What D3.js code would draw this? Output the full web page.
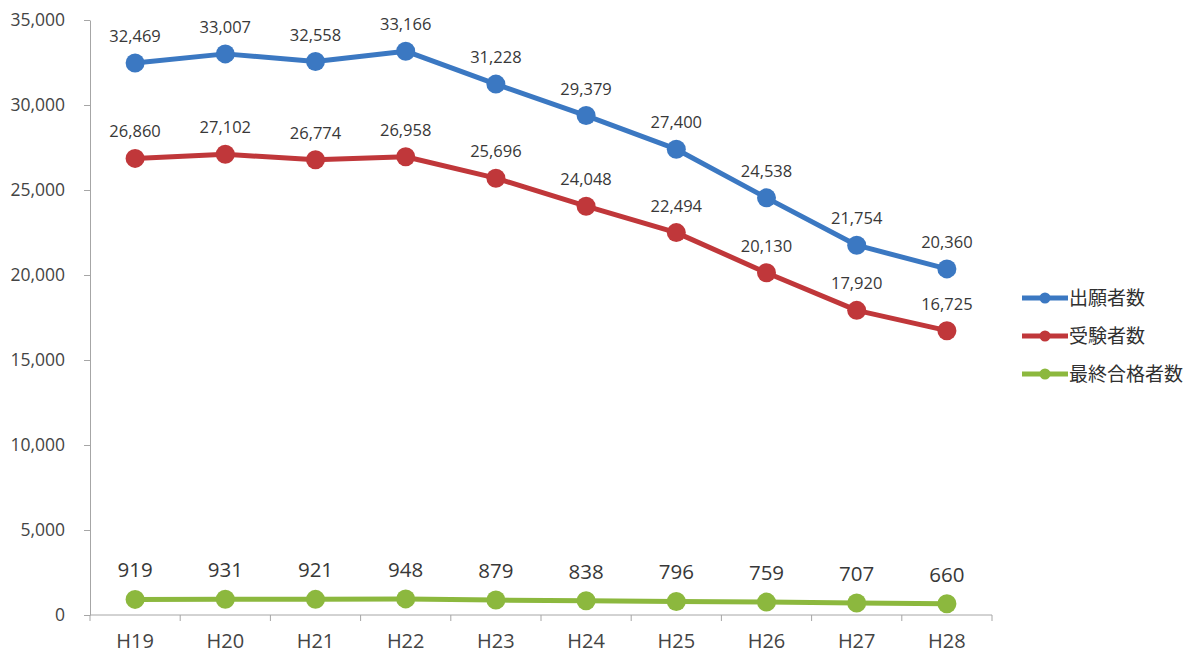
<!DOCTYPE html>
<html>
<head>
<meta charset="utf-8">
<script src="https://cdn.jsdelivr.net/npm/d3@7"></script>
<style>
  body { margin: 0; background: #fff; }
  text { font-family: "Open Sans", "Noto Sans CJK JP", sans-serif; fill: #404040; }
  .axis path, .axis line { stroke: #a6a6a6; }
</style>
</head>
<body>
<div id="chart"></div>
<script>
// years (Heisei)
var years = ["H19", "H20", "H21", "H22", "H23", "H24", "H25", "H26", "H27", "H28"];
var applicants = [32469, 33007, 32558, 33166, 31228, 29379, 27400, 24538, 21754, 20360];
var examinees = [26860, 27102, 26774, 26958, 25696, 24048, 22494, 20130, 17920, 16725];
var passed = [919, 931, 921, 948, 879, 838, 796, 759, 707, 660];
var seriesNames = ["出願者数", "受験者数", "最終合格者数"];
var yTicks = [0, 5000, 10000, 15000, 20000, 25000, 30000, 35000];

var colors = ["#3b78c2", "#c0373a", "#8cb83e"];

var svg = d3.select("#chart").append("svg")
  .attr("width", 1200).attr("height", 672);

var x = d3.scaleBand().domain(years).range([90, 992]);
var y = d3.scaleLinear().domain([0, 35000]).range([615, 20]);

// y axis
var yAxis = svg.append("g").attr("class", "axis")
  .attr("transform", "translate(90,0)")
  .call(d3.axisLeft(y).tickValues(yTicks).tickFormat(d3.format(",")).tickSize(6).tickSizeOuter(0));
yAxis.selectAll("text").attr("x", -25).style("font-size", "17.5px").style("fill", "#444");

// x axis with ticks on category boundaries
var xAxis = svg.append("g").attr("class", "axis")
  .attr("transform", "translate(0,615)");
xAxis.append("line").attr("x1", 90).attr("x2", 992).attr("stroke", "#a6a6a6");
xAxis.selectAll(".tk").data(years.concat(["end"])).enter().append("line")
  .attr("x1", function (d, i) { return 90 + i * x.step(); })
  .attr("x2", function (d, i) { return 90 + i * x.step(); })
  .attr("y1", 0).attr("y2", 6).attr("stroke", "#a6a6a6");
xAxis.selectAll(".lbl").data(years).enter().append("text")
  .attr("x", function (d) { return x(d) + x.bandwidth() / 2; })
  .attr("y", 33)
  .attr("text-anchor", "middle")
  .style("font-size", "20px").style("fill", "#444")
  .text(function (d) { return d; });

var allSeries = [applicants, examinees, passed];
var line = d3.line()
  .x(function (d, i) { return x(years[i]) + x.bandwidth() / 2; })
  .y(function (d) { return y(d); });

allSeries.forEach(function (vals, s) {
  var g = svg.append("g");
  g.append("path").datum(vals)
    .attr("d", line)
    .attr("fill", "none")
    .attr("stroke", colors[s])
    .attr("stroke-width", 5)
    .attr("stroke-linejoin", "round");
  g.selectAll("circle").data(vals).enter().append("circle")
    .attr("cx", function (d, i) { return x(years[i]) + x.bandwidth() / 2; })
    .attr("cy", function (d) { return y(d); })
    .attr("r", 9.5)
    .attr("fill", colors[s]);
  g.selectAll("text").data(vals).enter().append("text")
    .attr("x", function (d, i) { return x(years[i]) + x.bandwidth() / 2; })
    .attr("y", function (d) { return y(d) - (s == 2 ? 22 : 21); })
    .attr("text-anchor", "middle")
    .style("font-size", s == 2 ? "20.5px" : "16.5px")
    .style("fill", "#383838")
    .text(function (d) { return d3.format(",")(d); });
});

// legend
var legend = svg.append("g");
seriesNames.forEach(function (name, i) {
  var ly = 298 + i * 38;
  legend.append("line").attr("x1", 1022).attr("x2", 1068)
    .attr("y1", ly).attr("y2", ly)
    .attr("stroke", colors[i]).attr("stroke-width", 5);
  legend.append("circle").attr("cx", 1045).attr("cy", ly).attr("r", 5.5).attr("fill", colors[i]);
  legend.append("text").attr("x", 1069).attr("y", ly + 7)
    .style("font-family", "'Noto Sans CJK JP', sans-serif")
    .style("font-size", "19px").style("fill", "#303030")
    .text(name);
});
</script>
</body>
</html>
